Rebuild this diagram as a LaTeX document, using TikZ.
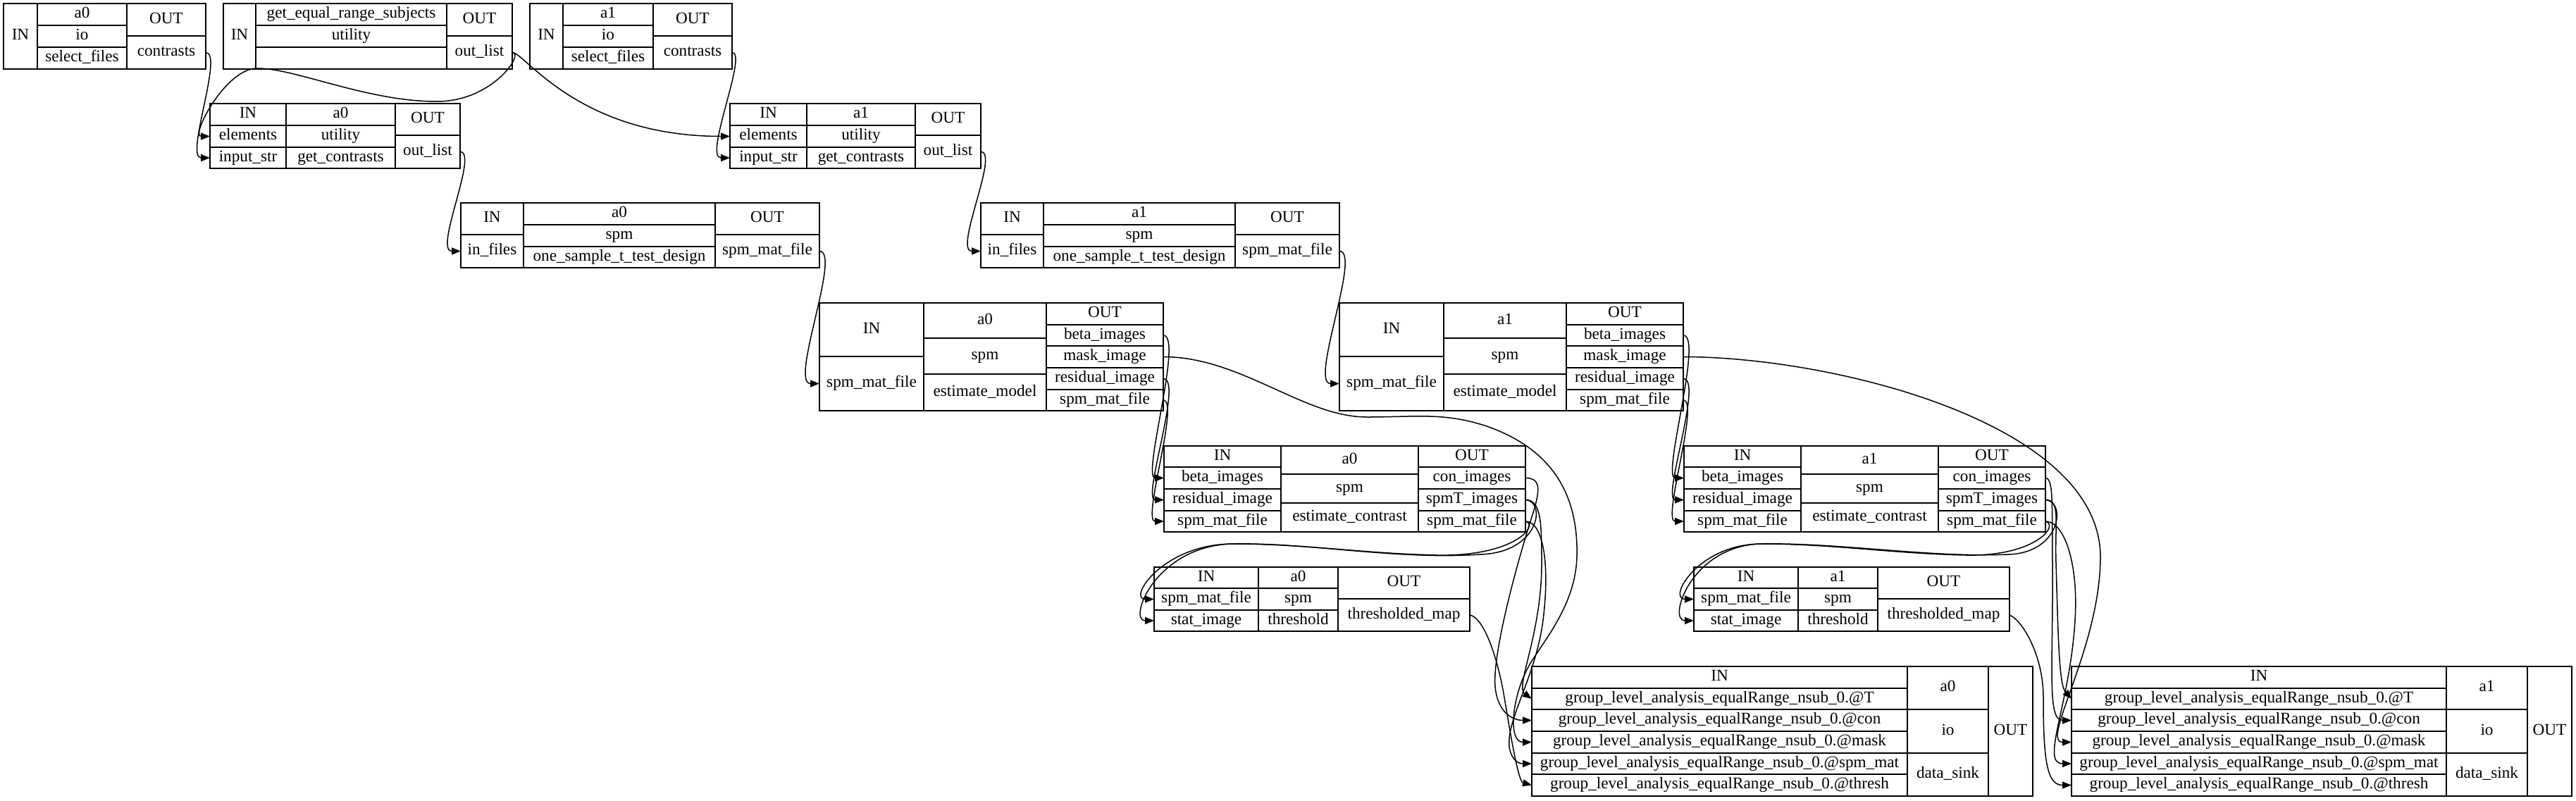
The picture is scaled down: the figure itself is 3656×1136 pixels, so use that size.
\documentclass[tikz,border=0pt]{standalone}
\usepackage{fontspec}
\setmainfont{Liberation Serif}
\usetikzlibrary{arrows.meta}
\tikzset{
 fbox/.style={draw=black, line width=1pt, inner sep=0pt, outer sep=0pt, font=\fontsize{11.6}{13}\selectfont, text height=7.8pt, text depth=2.4pt},
 edge/.style={draw=black, line width=0.75pt, -{Triangle[length=6.5pt,width=5pt]}}
}
\newcommand\recf[6]{%
  \pgfmathsetmacro\recW{(#4)-(#2)}%
  \pgfmathsetmacro\recH{(#5)-(#3)}%
  \node[fbox, minimum width=\recW*0.5pt, minimum height=\recH*0.5pt] (#1) at ({((#2)+(#4))/2},{((#3)+(#5))/2}) {#6};%
}
\begin{document}
\begin{tikzpicture}[x=0.5pt,y=-0.5pt]
\useasboundingbox (0,0) rectangle (3656,1136);
\fill[white] (0,0) rectangle (3656,1136);

% ---- row 1
\recf{a0io-in}{5}{5}{53}{98}{IN}
\recf{a0io-n}{53}{5}{180}{36}{a0}
\recf{a0io-t}{53}{36}{180}{67}{io}
\recf{a0io-f}{53}{67}{180}{98}{select\_files}
\recf{a0io-out}{180}{5}{292}{51}{OUT}
\recf{a0io-contrasts}{180}{51}{292}{98}{contrasts}

\recf{gers-in}{317}{5}{363}{98}{IN}
\recf{gers-n}{363}{5}{634}{36}{get\_equal\_range\_subjects}
\recf{gers-t}{363}{36}{634}{67}{utility}
\recf{gers-f}{363}{67}{634}{98}{}
\recf{gers-out}{634}{5}{727}{51}{OUT}
\recf{gers-outlist}{634}{51}{727}{98}{out\_list}

\recf{a1io-in}{752}{5}{799}{98}{IN}
\recf{a1io-n}{799}{5}{927}{36}{a1}
\recf{a1io-t}{799}{36}{927}{67}{io}
\recf{a1io-f}{799}{67}{927}{98}{select\_files}
\recf{a1io-out}{927}{5}{1039}{51}{OUT}
\recf{a1io-contrasts}{927}{51}{1039}{98}{contrasts}

% ---- row 2
\recf{getc0-in}{298}{147}{406}{178}{IN}
\recf{getc0-elements}{298}{178}{406}{209}{elements}
\recf{getc0-input}{298}{209}{406}{239}{input\_str}
\recf{getc0-n}{406}{147}{561}{178}{a0}
\recf{getc0-t}{406}{178}{561}{209}{utility}
\recf{getc0-f}{406}{209}{561}{239}{get\_contrasts}
\recf{getc0-out}{561}{147}{653}{192}{OUT}
\recf{getc0-outlist}{561}{192}{653}{239}{out\_list}

\recf{getc1-in}{1036}{147}{1145}{178}{IN}
\recf{getc1-elements}{1036}{178}{1145}{209}{elements}
\recf{getc1-input}{1036}{209}{1145}{239}{input\_str}
\recf{getc1-n}{1145}{147}{1299}{178}{a1}
\recf{getc1-t}{1145}{178}{1299}{209}{utility}
\recf{getc1-f}{1145}{209}{1299}{239}{get\_contrasts}
\recf{getc1-out}{1299}{147}{1392}{192}{OUT}
\recf{getc1-outlist}{1299}{192}{1392}{239}{out\_list}

% ---- row 3
\recf{d0-in}{654}{288}{743}{333}{IN}
\recf{d0-infiles}{654}{333}{743}{380}{in\_files}
\recf{d0-n}{743}{288}{1015}{319}{a0}
\recf{d0-t}{743}{319}{1015}{350}{spm}
\recf{d0-f}{743}{350}{1015}{380}{one\_sample\_t\_test\_design}
\recf{d0-out}{1015}{288}{1163}{333}{OUT}
\recf{d0-spm}{1015}{333}{1163}{380}{spm\_mat\_file}

\recf{d1-in}{1392}{288}{1481}{333}{IN}
\recf{d1-infiles}{1392}{333}{1481}{380}{in\_files}
\recf{d1-n}{1481}{288}{1753}{319}{a1}
\recf{d1-t}{1481}{319}{1753}{350}{spm}
\recf{d1-f}{1481}{350}{1753}{380}{one\_sample\_t\_test\_design}
\recf{d1-out}{1753}{288}{1901}{333}{OUT}
\recf{d1-spm}{1753}{333}{1901}{380}{spm\_mat\_file}

% ---- row 4
\recf{em0-in}{1163}{430}{1311}{506}{IN}
\recf{em0-spmin}{1163}{506}{1311}{583}{spm\_mat\_file}
\recf{em0-n}{1311}{430}{1485}{480}{a0}
\recf{em0-t}{1311}{480}{1485}{531}{spm}
\recf{em0-f}{1311}{531}{1485}{583}{estimate\_model}
\recf{em0-out}{1485}{430}{1651}{461}{OUT}
\recf{em0-beta}{1485}{461}{1651}{491}{beta\_images}
\recf{em0-mask}{1485}{491}{1651}{522}{mask\_image}
\recf{em0-resid}{1485}{522}{1651}{553}{residual\_image}
\recf{em0-spm}{1485}{553}{1651}{583}{spm\_mat\_file}

\recf{em1-in}{1901}{430}{2049}{506}{IN}
\recf{em1-spmin}{1901}{506}{2049}{583}{spm\_mat\_file}
\recf{em1-n}{2049}{430}{2223}{480}{a1}
\recf{em1-t}{2049}{480}{2223}{531}{spm}
\recf{em1-f}{2049}{531}{2223}{583}{estimate\_model}
\recf{em1-out}{2223}{430}{2389}{461}{OUT}
\recf{em1-beta}{2223}{461}{2389}{491}{beta\_images}
\recf{em1-mask}{2223}{491}{2389}{522}{mask\_image}
\recf{em1-resid}{2223}{522}{2389}{553}{residual\_image}
\recf{em1-spm}{2223}{553}{2389}{583}{spm\_mat\_file}

% ---- row 5
\recf{ec0-in}{1652}{633}{1818}{663}{IN}
\recf{ec0-beta}{1652}{663}{1818}{694}{beta\_images}
\recf{ec0-resid}{1652}{694}{1818}{725}{residual\_image}
\recf{ec0-spmin}{1652}{725}{1818}{755}{spm\_mat\_file}
\recf{ec0-n}{1818}{633}{2013}{673}{a0}
\recf{ec0-t}{1818}{673}{2013}{714}{spm}
\recf{ec0-f}{1818}{714}{2013}{755}{estimate\_contrast}
\recf{ec0-out}{2013}{633}{2165}{663}{OUT}
\recf{ec0-con}{2013}{663}{2165}{694}{con\_images}
\recf{ec0-spmT}{2013}{694}{2165}{725}{spmT\_images}
\recf{ec0-spmo}{2013}{725}{2165}{755}{spm\_mat\_file}

\recf{ec1-in}{2390}{633}{2556}{663}{IN}
\recf{ec1-beta}{2390}{663}{2556}{694}{beta\_images}
\recf{ec1-resid}{2390}{694}{2556}{725}{residual\_image}
\recf{ec1-spmin}{2390}{725}{2556}{755}{spm\_mat\_file}
\recf{ec1-n}{2556}{633}{2751}{673}{a1}
\recf{ec1-t}{2556}{673}{2751}{714}{spm}
\recf{ec1-f}{2556}{714}{2751}{755}{estimate\_contrast}
\recf{ec1-out}{2751}{633}{2903}{663}{OUT}
\recf{ec1-con}{2751}{663}{2903}{694}{con\_images}
\recf{ec1-spmT}{2751}{694}{2903}{725}{spmT\_images}
\recf{ec1-spmo}{2751}{725}{2903}{755}{spm\_mat\_file}

% ---- row 6
\recf{th0-in}{1638}{805}{1786}{835}{IN}
\recf{th0-spm}{1638}{835}{1786}{866}{spm\_mat\_file}
\recf{th0-stat}{1638}{866}{1786}{896}{stat\_image}
\recf{th0-n}{1786}{805}{1899}{835}{a0}
\recf{th0-t}{1786}{835}{1899}{866}{spm}
\recf{th0-f}{1786}{866}{1899}{896}{threshold}
\recf{th0-out}{1899}{805}{2086}{850}{OUT}
\recf{th0-map}{1899}{850}{2086}{896}{thresholded\_map}

\recf{th1-in}{2404}{805}{2552}{835}{IN}
\recf{th1-spm}{2404}{835}{2552}{866}{spm\_mat\_file}
\recf{th1-stat}{2404}{866}{2552}{896}{stat\_image}
\recf{th1-n}{2552}{805}{2665}{835}{a1}
\recf{th1-t}{2552}{835}{2665}{866}{spm}
\recf{th1-f}{2552}{866}{2665}{896}{threshold}
\recf{th1-out}{2665}{805}{2852}{850}{OUT}
\recf{th1-map}{2665}{850}{2852}{896}{thresholded\_map}

% ---- row 7
\recf{ds0-in}{2174}{946}{2707}{977}{IN}
\recf{ds0-T}{2174}{977}{2707}{1007}{group\_level\_analysis\_equalRange\_nsub\_0.@T}
\recf{ds0-con}{2174}{1007}{2707}{1038}{group\_level\_analysis\_equalRange\_nsub\_0.@con}
\recf{ds0-mask}{2174}{1038}{2707}{1069}{group\_level\_analysis\_equalRange\_nsub\_0.@mask}
\recf{ds0-spm}{2174}{1069}{2707}{1099}{group\_level\_analysis\_equalRange\_nsub\_0.@spm\_mat}
\recf{ds0-thresh}{2174}{1099}{2707}{1130}{group\_level\_analysis\_equalRange\_nsub\_0.@thresh}
\recf{ds0-n}{2707}{946}{2822}{1007}{a0}
\recf{ds0-t}{2707}{1007}{2822}{1069}{io}
\recf{ds0-f}{2707}{1069}{2822}{1130}{data\_sink}
\recf{ds0-out}{2822}{946}{2885}{1130}{OUT}

\recf{ds1-in}{2940}{946}{3472}{977}{IN}
\recf{ds1-T}{2940}{977}{3472}{1007}{group\_level\_analysis\_equalRange\_nsub\_0.@T}
\recf{ds1-con}{2940}{1007}{3472}{1038}{group\_level\_analysis\_equalRange\_nsub\_0.@con}
\recf{ds1-mask}{2940}{1038}{3472}{1069}{group\_level\_analysis\_equalRange\_nsub\_0.@mask}
\recf{ds1-spm}{2940}{1069}{3472}{1099}{group\_level\_analysis\_equalRange\_nsub\_0.@spm\_mat}
\recf{ds1-thresh}{2940}{1099}{3472}{1130}{group\_level\_analysis\_equalRange\_nsub\_0.@thresh}
\recf{ds1-n}{3472}{946}{3587}{1007}{a1}
\recf{ds1-t}{3472}{1007}{3587}{1069}{io}
\recf{ds1-f}{3472}{1069}{3587}{1130}{data\_sink}
\recf{ds1-out}{3587}{946}{3650}{1130}{OUT}

% ---- connectors
\draw[edge] (a0io-contrasts.east) .. controls +(26,0) and +(-36,0) .. (getc0-input.west);
\draw[edge] (gers-outlist.east) .. controls +(18,0) and (700,144) .. (620,144)
  .. controls (520,144) and (420,97) .. (365,97)
  .. controls (320,97) and +(-28,0) .. (getc0-elements.west);
\draw[edge] (gers-outlist.east) .. controls +(18,0) and +(-216,0) .. (getc1-elements.west);
\draw[edge] (a1io-contrasts.east) .. controls +(23,0) and +(-38,0) .. (getc1-input.west);

\draw[edge] (getc0-outlist.east) .. controls +(27,0) and +(-39,0) .. (d0-infiles.west);
\draw[edge] (getc1-outlist.east) .. controls +(27,0) and +(-39,0) .. (d1-infiles.west);

\draw[edge] (d0-spm.east) .. controls +(32,0) and +(-43,0) .. (em0-spmin.west);
\draw[edge] (d1-spm.east) .. controls +(32,0) and +(-43,0) .. (em1-spmin.west);

\draw[edge] (em0-beta.east) .. controls +(29,0) and +(-32,0) .. (ec0-beta.west);
\draw[edge] (em0-resid.east) .. controls +(29,0) and +(-32,0) .. (ec0-resid.west);
\draw[edge] (em0-spm.east) .. controls +(24,0) and +(-32,0) .. (ec0-spmin.west);
\draw[edge] (em1-beta.east) .. controls +(29,0) and +(-32,0) .. (ec1-beta.west);
\draw[edge] (em1-resid.east) .. controls +(29,0) and +(-32,0) .. (ec1-resid.west);
\draw[edge] (em1-spm.east) .. controls +(24,0) and +(-32,0) .. (ec1-spmin.west);

\draw[edge] (em0-mask.east) .. controls +(110,0) and (1850,592) .. (1940,592)
  .. controls (2010,592) and (2050,585) .. (2110,605)
  .. controls (2210,640) and (2240,710) .. (2238,790)
  .. controls (2236,860) and (2190,910) .. (2170,945)
  .. controls (2145,990) and +(-34,0) .. (ds0-mask.west);
\draw[edge] (em1-mask.east) .. controls +(211,0) and (2980,600) .. (2981,790)
  .. controls (2981,920) and +(-45,0) .. (ds1-mask.west);

\draw[edge] (ec0-spmo.east) .. controls +(20,5) and (2150,790) .. (2040,788)
  .. controls (1940,786) and (1850,772) .. (1750,772)
  .. controls (1650,772) and +(-38,0) .. (th0-spm.west);
\draw[edge] (ec0-spmT.east) .. controls +(30,2) and (2185,785) .. (2100,787)
  .. controls (1980,795) and (1860,770) .. (1750,772)
  .. controls (1640,774) and +(-38,0) .. (th0-stat.west);
\draw[edge] (ec1-spmo.east) .. controls +(20,5) and (2890,790) .. (2790,788)
  .. controls (2690,786) and (2600,772) .. (2500,772)
  .. controls (2410,772) and +(-38,0) .. (th1-spm.west);
\draw[edge] (ec1-spmT.east) .. controls +(30,2) and (2925,785) .. (2850,787)
  .. controls (2740,792) and (2610,770) .. (2500,772)
  .. controls (2400,774) and +(-38,0) .. (th1-stat.west);

\draw[edge] (ec0-con.east) .. controls +(25,0) and (2185,700) .. (2172,740)
  .. controls (2150,810) and (2118,930) .. (2122,975)
  .. controls (2126,1015) and +(-24,0) .. (ds0-con.west);
\draw[edge] (ec0-spmT.east) .. controls +(22,0) and (2188,740) .. (2188,800)
  .. controls (2188,900) and +(-24,-17) .. (ds0-T.west);
\draw[edge] (ec0-spmo.east) .. controls +(25,0) and (2200,800) .. (2190,880)
  .. controls (2180,960) and (2138,1020) .. (2142,1060)
  .. controls (2145,1080) and +(-18,0) .. (ds0-spm.west);
\draw[edge] (th0-map.east) .. controls +(19,3) and (2125,930) .. (2135,990)
  .. controls (2145,1050) and +(-19,-5) .. (ds0-thresh.west);

\draw[edge] (ec1-con.east) .. controls +(12,0) and (2912,720) .. (2913,800)
  .. controls (2914,950) and +(-35,0) .. (ds1-con.west);
\draw[edge] (ec1-spmT.east) .. controls +(22,0) and (2916,740) .. (2918,800)
  .. controls (2921,900) and +(-18,-20) .. (ds1-T.west);
\draw[edge] (ec1-spmo.east) .. controls +(27,0) and (2950,800) .. (2945,880)
  .. controls (2938,1000) and +(-45,0) .. (ds1-spm.west);
\draw[edge] (th1-map.east) .. controls +(18,7) and (2900,930) .. (2900,990)
  .. controls (2900,1080) and +(-35,0) .. (ds1-thresh.west);
\end{tikzpicture}
\end{document}
